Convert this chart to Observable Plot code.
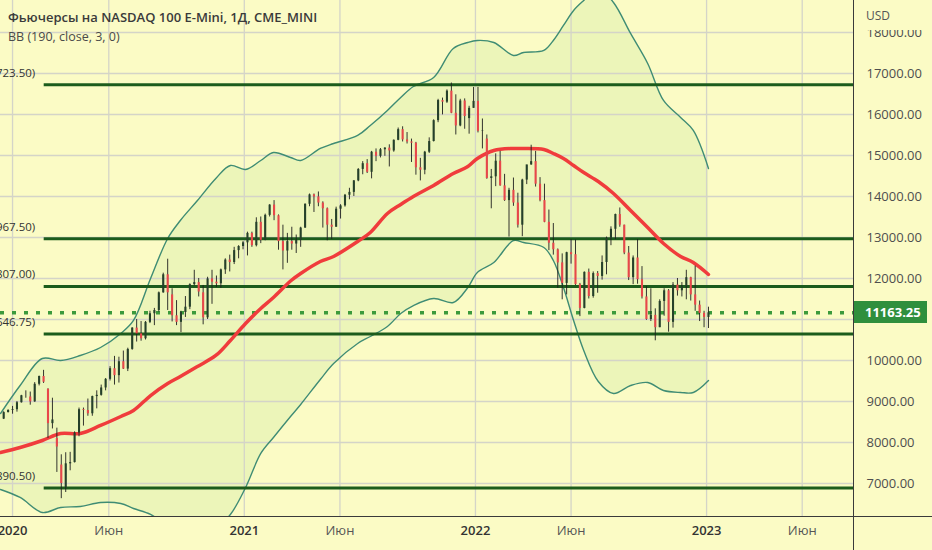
<!DOCTYPE html>
<html>
<head>
<meta charset="utf-8">
<script src="https://cdn.jsdelivr.net/npm/d3@7"></script>
<script src="https://cdn.jsdelivr.net/npm/@observablehq/plot@0.6"></script>
<style>
  html,body{margin:0;padding:0;background:#fbfbc5;}
  #wrap{position:relative;width:932px;height:550px;overflow:hidden;font-family:"Open Sans","Noto Sans",sans-serif;background:#fbfbc5;}
  #wrap svg{position:absolute;left:0;top:0;}
  .ov{position:absolute;white-space:nowrap;}
  #title{left:8px;top:8px;font-size:13px;font-weight:600;color:#3a3a3a;}
  #sub{left:8px;top:28px;font-size:12.5px;color:#4a4a4a;}
  #usd{left:854px;top:0;width:78px;height:30px;background:#fbfbc5;}
  #usd span{position:absolute;left:12px;top:7px;font-size:12px;color:#555;}
  #vsep{left:853px;top:0;width:1px;height:550px;background:#3a3a3a;}
  #hsep{left:0;top:516px;width:932px;height:1px;background:#3a3a3a;}
  #price{left:854px;width:73px;height:22px;background:#2f8f3d;color:#fff;font-size:13px;font-weight:700;line-height:22px;padding-left:11px;box-sizing:border-box;}
</style>
</head>
<body>
<div id="wrap"></div>
<script>
// ---------- data ----------
const titleText = "Фьючерсы на NASDAQ 100 E-Mini, 1Д, CME_MINI";
const subText = "BB (190, close, 3, 0)";
const currency = "USD";
const lastPrice = 11163.25;

// weekly candles, first week (Wed) 2019-12-18
const firstWeek = "2019-12-18";
const opens = [
 8570,8730,8780,8800,8970,9140,9110,8990,9420,9610,
 9300,8460,8100,7450,6900,7480,7510,8230,8800,8780,
 8700,9120,9150,9330,9540,9800,9630,9970,9790,10270,
 10790,10650,10530,10930,11140,11220,11650,12090,11600,11090,
 10930,11170,11300,11850,11900,11650,11040,11990,11910,11870,
 12210,12450,12390,12680,12780,12870,13100,12800,13370,12930,
 13540,13790,13530,12900,12670,12900,12840,12930,13230,13810,
 14040,13990,13840,13700,13300,13250,13690,13770,14030,14100,
 14380,14660,14800,14590,15080,14980,15140,15180,15110,15370,
 15630,15380,15330,15300,14700,14640,15080,15340,15850,16340,
 16300,16570,16030,15720,16330,15900,16150,16320,15590,15400,
 14440,14480,14860,14260,13900,14150,13840,13300,14400,14770,
 14850,14300,13900,13370,12860,12700,12380,11880,12630,12580,
 11850,11270,12150,11560,12120,12050,12390,12980,13200,13560,
 13300,12620,12020,12500,11970,11550,11000,11100,10800,11440,
 11700,10930,11840,11700,11800,12020,11600,11350,11150,11050];
const highs = [
 8750,8800,8880,9000,9150,9260,9230,9460,9620,9760,
 9310,9080,8350,7700,7750,7760,8260,8840,8840,9060,
 9130,9260,9400,9560,9850,10100,10080,10230,10300,10800,
 11000,10950,10950,11200,11270,11670,12130,12470,11750,11460,
 11200,11560,11870,12200,12000,11830,12030,12200,12060,12230,
 12480,12570,12760,12800,12900,13130,13130,13480,13500,13570,
 13800,13900,13550,13300,13100,13250,13060,13250,13820,14060,
 14060,14110,13870,13720,13440,13740,13800,14050,14200,14390,
 14680,14850,14900,15100,15160,15170,15190,15260,15380,15670,
 15700,15560,15400,15320,14930,15100,15430,15870,16370,16400,
 16600,16767,16480,16370,16380,16200,16660,16660,15890,15500,
 14660,15040,15100,14540,14200,14450,14080,14420,14760,15250,
 15100,14460,14300,13670,13340,12720,12600,12640,12950,12940,
 11880,12160,12230,12160,12170,12550,13010,13260,13570,13720,
 13300,12780,12550,12950,12290,11800,11750,11260,11480,11750,
 11730,11900,12000,11900,12200,12030,12300,11450,11200,11300];
const lows = [
 8560,8720,8690,8740,8960,9080,8910,8980,9380,9440,
 8100,8330,7270,6630,6780,7310,7500,8140,8400,8640,
 8640,8820,9130,9260,9500,9400,9450,9780,9730,10250,
 10450,10470,10500,10900,10850,11180,11640,11220,10940,10850,
 10680,11050,11240,11820,11550,10870,11000,11370,11780,11760,
 12100,12160,12340,12480,12700,12550,12760,12770,12850,12920,
 13500,13410,12690,12210,12370,12690,12610,12760,13220,13750,
 13610,13750,13230,12920,12950,13250,13450,13740,13920,14000,
 14360,14530,14560,14430,14850,14940,14980,14720,15080,15360,
 15330,15280,14830,14520,14380,14530,15050,15330,15800,15990,
 16270,16020,15500,15700,15640,15520,16150,15550,15160,14420,
 13700,14240,14250,13880,13010,13760,13230,13020,14290,14760,
 14230,13870,13360,12680,12570,11760,11480,11600,12350,11830,
 11070,11260,11500,11520,11640,11960,12090,12800,12950,13250,
 12580,11950,11850,11860,11500,10980,10950,10480,10800,11080,
 10690,10790,11570,11550,11480,11450,11200,10950,10800,10780];
const closes = [
 8730,8780,8800,8970,9140,9140,8990,9420,9610,9470,
 8460,8550,7890,7000,7480,7510,8230,8800,8780,8700,
 9120,9150,9330,9540,9800,9630,9970,9790,10270,10790,
 10650,10530,10930,11140,11220,11650,12090,11650,11090,10930,
 11170,11300,11850,11900,11670,11040,11990,11910,11870,12210,
 12450,12390,12680,12780,12870,13100,12800,13370,12930,13540,
 13790,13530,12900,12670,12900,12840,12930,13230,13810,14040,
 13990,13840,13700,13300,13250,13690,13770,14030,14100,14380,
 14660,14800,14590,15080,14980,15140,15180,15110,15370,15630,
 15380,15330,15300,14700,14640,15080,15340,15850,16340,16300,
 16570,16030,15720,16330,15950,16150,16320,15590,15600,14440,
 14480,14860,14260,13900,14150,13840,13300,14400,14770,14850,
 14300,13900,13370,12860,12700,12380,11880,12630,12580,11850,
 11270,12150,11560,12120,12050,12390,12980,13200,13560,13300,
 12620,12020,12500,11970,11550,11000,11100,10800,11440,11700,
 10930,11840,11700,11800,12020,11600,11350,11150,11050,11163.25];

// Bollinger band (190, 3)
const bandDates = ["2019-12-13","2020-01-13","2020-02-17","2020-03-17","2020-04-17","2020-05-19","2020-06-20","2020-07-10","2020-08-06","2020-09-02",
 "2020-09-22","2020-10-19","2020-11-17","2020-12-10","2021-01-03","2021-01-27","2021-02-16","2021-03-15","2021-03-31","2021-05-01",
 "2021-05-22","2021-06-29","2021-07-19","2021-08-15","2021-09-05","2021-09-25","2021-10-27","2021-11-27","2021-12-20","2022-01-04",
 "2022-01-30","2022-03-02","2022-03-18","2022-04-19","2022-05-04","2022-05-20","2022-06-05","2022-06-21","2022-07-14","2022-08-07",
 "2022-09-03","2022-09-30","2022-10-25","2022-11-21","2022-12-11","2023-01-04"];
const bandUpper = [8707,9390,10049,10000,10122,10317,10659,10976,12000,12976,
 13415,13902,14439,14756,14659,14878,15073,14951,14878,15171,
 15293,15488,15732,16098,16415,16683,16903,17610,17756,17805,
 17756,17439,17512,17561,17805,18171,18537,18780,19073,18732,
 17976,17244,16342,15927,15610,14683];
const bandMiddle = [7756,7878,8049,8220,8220,8415,8634,8780,9146,9439,
 9610,9854,10122,10488,10902,11268,11537,11939,12122,12415,
 12537,12902,13122,13585,13805,14000,14268,14561,14732,14927,
 15122,15171,15171,15146,15049,14927,14756,14585,14366,14073,
 13659,13244,12854,12537,12390,12098];
const bandLower = [6854,6659,6293,6415,6439,6537,6512,6390,6244,5976,
 5805,5805,5927,6244,6900,7732,8122,8634,8927,9537,
 9927,10415,10585,10829,11146,11341,11512,11415,11780,12146,
 12390,12927,12878,12756,12439,11780,10976,10244,9488,9195,
 9390,9463,9268,9220,9220,9512];

// horizontal levels
const levels = [16723.50, 12967.50, 11807.00, 10646.75, 6890.50];
const levelStart = "2020-02-20";

// axis ticks
const yTicks = [7000,8000,9000,10000,11000,12000,13000,14000,15000,16000,17000,18000];
const yLabelTicks = [7000,8000,9000,10000,12000,13000,14000,15000,16000,17000,18000];
const yearTicks = ["2020-01-01","2021-01-01","2022-01-01","2023-01-01"];
const monthTicks = ["2020-06-01","2021-06-01","2022-06-01","2023-06-01"];
const monthLabel = "Июн";
const xDomain = ["2019-12-13","2023-08-21"];
const yDomain = [6195, 18780];

// ---------- build ----------
const start = new Date(firstWeek);
const candles = opens.map((o,i)=>({date:d3.utcDay.offset(start, 7*i), o, h:highs[i], l:lows[i], c:closes[i]}));
const up = candles.filter(d=>d.c>=d.o), down = candles.filter(d=>d.c<d.o);
const band = bandDates.map((d,i)=>({date:new Date(d), up:bandUpper[i], mid:bandMiddle[i], lo:bandLower[i]}));
const lvlStart = new Date(levelStart), xEnd = new Date(xDomain[1]);
const f2 = d3.format(".2f");

const plot = Plot.plot({
  width: 932, height: 550,
  marginLeft: 0, marginRight: 79, marginTop: 0, marginBottom: 34,
  style: {background: "#fbfbc5", overflow: "hidden", fontFamily: "'Open Sans','Noto Sans',sans-serif", fontSize: "13px"},
  x: {type: "utc", domain: xDomain.map(d=>new Date(d))},
  y: {domain: yDomain},
  marks: [
    Plot.areaY(band, {x:"date", y1:"lo", y2:"up", fill:"#ecf5b9", curve:"catmull-rom", clip:true}),
    Plot.gridY(yTicks, {stroke:"#d4d4c8", strokeOpacity:1, strokeWidth:1.3}),
    Plot.gridX(yearTicks.concat(monthTicks).map(d=>new Date(d)), {stroke:"#d4d4c8", strokeOpacity:1, strokeWidth:1.3}),
    Plot.line(band, {x:"date", y:"up", stroke:"#3f8c74", strokeWidth:1.4, curve:"catmull-rom", clip:true}),
    Plot.line(band, {x:"date", y:"lo", stroke:"#3f8c74", strokeWidth:1.4, curve:"catmull-rom", clip:true}),
    Plot.ruleY([lastPrice], {y:d=>d, stroke:"#3c9a3c", strokeWidth:3.5, strokeDasharray:"4,8"}),
    Plot.ruleY(levels, {y:d=>d, x1:()=>lvlStart, x2:()=>xEnd, stroke:"#1c5c1c", strokeWidth:3}),
    Plot.text(levels, {y:d=>d, x:()=>lvlStart, text:d=>`(${f2(d)})`, textAnchor:"end", dx:-9, dy:-12, fontSize:11.5, fill:"#333"}),
    Plot.line(band, {x:"date", y:"mid", stroke:"#f03c3c", strokeWidth:3.5, curve:"catmull-rom", clip:true}),
    Plot.ruleX(candles, {x:"date", y1:"l", y2:"h", stroke:"#1e1e1e", strokeWidth:0.9, clip:true}),
    Plot.ruleX(up, {x:"date", y1:"o", y2:"c", stroke:"#25402a", strokeWidth:2.1, clip:true}),
    Plot.ruleX(down, {x:"date", y1:"o", y2:"c", stroke:"#e8474a", strokeWidth:2.1, clip:true}),
    Plot.axisY(yLabelTicks, {anchor:"right", tickSize:0, tickPadding:13, tickFormat:f2, fontSize:13, fill:"#4e4e4e"}),
    Plot.axisX(yearTicks.map(d=>new Date(d)), {anchor:"bottom", tickSize:0, tickPadding:9, tickFormat:d=>String(d.getUTCFullYear()), fontSize:13, fontWeight:600, fill:"#333"}),
    Plot.axisX(monthTicks.map(d=>new Date(d)), {anchor:"bottom", tickSize:0, tickPadding:9, tickFormat:()=>monthLabel, fontSize:13, fill:"#555"})
  ]
});

const wrap = document.getElementById("wrap");
wrap.appendChild(plot);

function ov(id, html){ const d=document.createElement("div"); d.className="ov"; d.id=id; d.innerHTML=html; wrap.appendChild(d); return d; }
ov("title", titleText);
ov("sub", subText);
ov("usd", `<span>${currency}</span>`);
ov("vsep", "");
ov("hsep", "");
const p = ov("price", f2(lastPrice));
p.style.top = (plot.scale("y").apply(lastPrice) - 11) + "px";
</script>
</body>
</html>
